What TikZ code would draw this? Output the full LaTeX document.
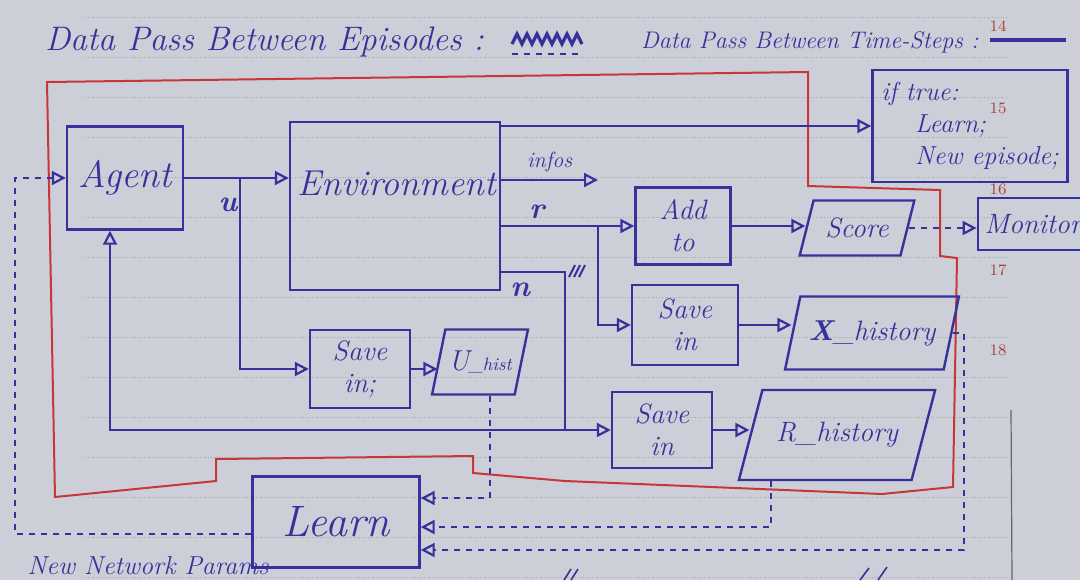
\documentclass[tikz,border=0pt]{standalone}
\usetikzlibrary{arrows.meta, shapes.geometric}
\definecolor{ink}{RGB}{55,50,155}
\definecolor{redpen}{RGB}{200,55,55}
\definecolor{paper}{RGB}{204,206,216}
\definecolor{pagenum}{RGB}{165,70,55}

\begin{document}
\begin{tikzpicture}[x=0.5pt, y=-0.5pt,
    box/.style={draw=ink, line width=1.2pt, text=ink, align=center, font=\fontsize{14}{16}\selectfont\itshape},
    hist/.style={box, trapezium, trapezium left angle=70, trapezium right angle=110, trapezium stretches=true},
    flow/.style={draw=ink, line width=1.1pt, -{Triangle[open, length=7pt, width=7pt]}},
    lbl/.style={text=ink, font=\fontsize{14}{16}\selectfont\itshape},
    rule/.style={black!35, densely dotted, line width=0.4pt}]
    \useasboundingbox (0,0) rectangle (1080,580);
    \fill[paper] (0,0) rectangle (1080,580);
    % Paper
    \foreach \y in {17,57,...,577}
        \draw[rule] (85,\y) -- (1008,\y);
    \draw[black!60, line width=0.6pt] (1011,410) -- (1012,580);
    \foreach \n/\y in {14/26, 15/108, 16/189, 17/270, 18/350}
        \node[text=pagenum, font=\footnotesize] (pg\n) at (998,\y) {\n};
    % Legend
    \node[lbl, anchor=west, font=\fontsize{17}{19}\selectfont\itshape] (eplegend) at (38,42) {Data Pass Between Episodes :};
    \draw[ink, line width=1.6pt] (512,44) \foreach \i in {1,...,7} {-- ++(5,-10) -- ++(5,10)};
    \draw[ink, line width=1.4pt, dashed] (512,54) -- (582,54);
    \node[lbl, anchor=west, font=\fontsize{12}{14}\selectfont\itshape] (tslegend) at (634,42) {Data Pass Between Time-Steps :};
    \draw[ink, line width=2pt] (990,40) -- (1066,40);
    % Loop boundary
    \draw[redpen, line width=1pt] (47,82) -- (808,72) -- (808,186) -- (940,190) -- (940,256)
        -- (957,258) -- (953,487) -- (882,494) -- (565,481) -- (473,473) -- (473,456)
        -- (216,459) -- (216,481) -- (55,497) -- cycle;
    % Blocks
    \node[box, minimum width=58pt, minimum height=51.5pt, font=\fontsize{19}{21}\selectfont\itshape] (agent) at (125,178) {Agent};
    \node[box, minimum width=105pt, minimum height=84pt] (env) at (395,206) {};
    \node[lbl, font=\fontsize{18}{20}\selectfont\itshape] (envtxt) at (397,183) {Environment};
    \node[box, minimum width=97.5pt, minimum height=56pt, align=left, font=\fontsize{13}{16}\selectfont\itshape] (iftrue) at (970,126)
        {if true:\\\hspace{1.3em}Learn;\\\hspace{1.3em}New episode;};
    \node[box, minimum width=47.5pt, minimum height=38.5pt] (add) at (683,226) {Add\\to};
    \node[hist, minimum width=57.5pt, minimum height=27.5pt] (score) at (857,228) {Score};
    \node[box, minimum width=55pt, minimum height=26pt] (monitor) at (1033,224) {Monitor};
    \node[box, minimum width=53pt, minimum height=40pt] (savx) at (685,325) {Save\\in};
    \node[hist, minimum width=87.5pt, minimum height=36.5pt, trapezium left angle=69, trapezium right angle=111] (xhist) at (872,333) {{\Large\bfseries X}\_history};
    \node[box, minimum width=50pt, minimum height=39pt] (savu) at (360,369) {Save\\in;};
    \node[hist, minimum width=48pt, minimum height=32.5pt, inner xsep=1pt] (uhist) at (480,362) {{\Large U}{\small\_hist}};
    \node[box, minimum width=50pt, minimum height=38pt] (savr) at (662,430) {Save\\in};
    \node[hist, minimum width=98.5pt, minimum height=45pt, trapezium left angle=61, trapezium right angle=119] (rhist) at (837,435) {R\_history};
    \node[box, minimum width=83.5pt, minimum height=45.5pt, font=\fontsize{22}{24}\selectfont\itshape] (learn) at (336,522) {Learn};
    % Time-step data
    \coordinate (ubr) at (240,178);
    \coordinate (rbr) at (598,226);
    \coordinate (nbr) at (565,272);
    \coordinate (nlow) at (565,430);
    \draw[flow] (agent.east) -- (agent.east -| env.west);
    \node[lbl, font=\fontsize{15}{17}\selectfont\bfseries\itshape] (ulbl) at (228,205) {u};
    \draw[flow] (ubr) |- (savu.west);
    \draw[flow] (env.east |- iftrue.west) -- (iftrue.west);
    \draw[flow] (env.east |- 0,180) -- (598,180) node[midway, above, lbl, font=\fontsize{11}{13}\selectfont\itshape] (infolbl) {infos};
    \draw[flow] (env.east |- add.west) -- (add.west);
    \node[lbl, font=\fontsize{15}{17}\selectfont\bfseries\itshape] (rlbl) at (537,212) {r};
    \draw[flow] (rbr) |- (savx.west);
    \draw[draw=ink, line width=1.1pt] (env.east |- nbr) -- (nbr) -- (nlow);
    \node[lbl, font=\fontsize{15}{17}\selectfont\bfseries\itshape] (nlbl) at (520,290) {n};
    \draw[ink, line width=1pt] (569,277) -- (575,265) (574,277) -- (580,265) (579,277) -- (585,265);
    \draw[flow] (nlow) -- (savr.west);
    \draw[flow] (nlow) -| ([xshift=-7.5pt]agent.south);
    \draw[flow] (add.east) -- (add.east -| score.west);
    \draw[flow, dashed] (score.east) -- (score.east -| monitor.west);
    \draw[flow] (savx.east) -- (savx.east -| xhist.west);
    \draw[flow] (savu.east) -- (savu.east -| uhist.west);
    \draw[flow] (savr.east) -- (savr.east -| rhist.west);
    % Episode data
    \coordinate (xdrop) at (964,0);
    \coordinate (ret) at (15,0);
    \draw[flow, dashed] ([xshift=5pt]uhist.south) |- ([yshift=12pt]learn.east);
    \draw[flow, dashed] ([xshift=-33pt]rhist.south) |- ([yshift=-2.5pt]learn.east);
    \draw[flow, dashed] (xhist.east) -- (xhist.east -| xdrop) |- ([yshift=-14pt]learn.east);
    \draw[flow, dashed] ([yshift=-6pt]learn.west) -- ([yshift=-6pt]learn.west -| ret) |- (agent.west);
    \node[lbl, font=\fontsize{13}{15}\selectfont\itshape] (paramlbl) at (148,566) {New Network Params};
    % Next line
    \draw[ink, line width=0.8pt] (564,580) -- (571,569) (571,580) -- (578,569) (860,580) -- (869,568) (878,580) -- (887,567);
\end{tikzpicture}
\end{document}
